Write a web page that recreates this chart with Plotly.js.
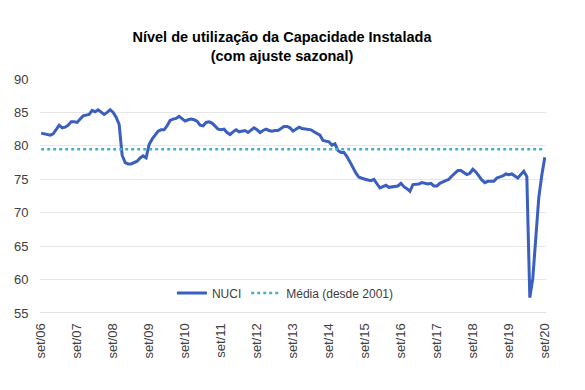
<!DOCTYPE html>
<html>
<head>
<meta charset="utf-8">
<script src="https://cdn.plot.ly/plotly-3.0.1.min.js"></script>
<style>html,body{margin:0;padding:0;background:#fff;}#chart{width:585px;height:390px;}</style>
</head>
<body>
<div id="chart"></div>
<script>
// Monthly NUCI (seasonally adjusted), set/06 .. set/20
const monthNames = ["jan","fev","mar","abr","mai","jun","jul","ago","set","out","nov","dez"];
const startYear = 2006, startMonth = 9, endYear = 2020, endMonth = 9;

const nuci = [
  81.9, 81.8, 81.6, 81.6, 81.8, 82.4, 83.1, 82.7, 82.8, 83.1, 83.6, 83.6, // set/06 - ago/07
  83.5, 84.0, 84.5, 84.6, 84.7, 85.3, 85.1, 85.4, 85.1, 84.7, 85.0, 85.4, // set/07 - ago/08
  85.0, 84.3, 83.2, 78.6, 77.5, 77.3, 77.3, 77.5, 77.7, 78.2, 78.5, 78.2, // set/08 - ago/09
  80.2, 81.0, 81.6, 82.2, 82.4, 82.4, 83.0, 83.8, 84.0, 84.1, 84.4, 84.0, // set/09 - ago/10
  83.7, 83.9, 84.0, 83.9, 83.7, 83.1, 83.0, 83.5, 83.6, 83.4, 83.0, 82.5, // set/10 - ago/11
  82.4, 82.5, 82.0, 81.7, 82.1, 82.4, 82.1, 82.2, 82.3, 82.0, 82.3, 82.7, // set/11 - ago/12
  82.4, 82.0, 82.3, 82.5, 82.3, 82.2, 82.3, 82.3, 82.6, 82.9, 82.9, 82.7, // set/12 - ago/13
  82.2, 82.5, 82.8, 82.6, 82.5, 82.5, 82.4, 82.1, 81.8, 81.6, 80.8, 80.7, // set/13 - ago/14
  80.6, 80.1, 80.3, 79.3, 79.0, 79.0, 78.4, 77.6, 76.7, 75.9, 75.3, 75.1, // set/14 - ago/15
  75.0, 74.9, 74.8, 75.0, 74.4, 73.7, 73.9, 74.1, 73.8, 73.9, 74.0, 74.0, // set/15 - ago/16
  74.4, 73.9, 73.6, 73.2, 74.2, 74.2, 74.3, 74.5, 74.4, 74.3, 74.4, 74.0, // set/16 - ago/17
  74.0, 74.4, 74.6, 74.8, 75.0, 75.5, 75.9, 76.3, 76.3, 76.0, 75.7, 75.9, // set/17 - ago/18
  76.5, 76.1, 75.4, 74.9, 74.5, 74.7, 74.7, 74.7, 75.2, 75.3, 75.5, 75.8, // set/18 - ago/19
  75.7, 75.8, 75.5, 75.2, 75.7, 76.2, 75.4, 57.3, 60.2, 66.8, 72.3, 75.6, // set/19 - ago/20
  78.3                                                                    // set/20
];
const mediaDesde2001 = 79.5;

const seriesNames = ["NUCI", "Média (desde 2001)"];
const titleText = "Nível de utilização da Capacidade Instalada<br>(com ajuste sazonal)";
const yTicks = [55, 60, 65, 70, 75, 80, 85, 90];

// month category labels
const months = [];
{
  let y = startYear, m = startMonth;
  while (y < endYear || (y === endYear && m <= endMonth)) {
    months.push(monthNames[m - 1] + "/" + String(y).slice(2));
    m++; if (m > 12) { m = 1; y++; }
  }
}
const xIdx = months.map((_, i) => i);
const tickIdx = xIdx.filter(i => months[i].startsWith("set/"));
const tickText = tickIdx.map(i => months[i]);

const traces = [
  {
    x: xIdx, y: nuci, type: "scatter", mode: "lines", name: seriesNames[0],
    line: {color: "#3B5FBE", width: 3}, hoverinfo: "skip"
  },
  {
    x: [xIdx[0], xIdx[xIdx.length - 1]], y: [mediaDesde2001, mediaDesde2001],
    type: "scatter", mode: "lines", name: seriesNames[1],
    line: {color: "#4AADC8", width: 2.5, dash: "dot"}, hoverinfo: "skip"
  }
];

const layout = {
  width: 585, height: 390,
  margin: {l: 40, r: 39, t: 79, b: 77, pad: 0},
  paper_bgcolor: "#fff", plot_bgcolor: "#fff",
  font: {family: "Liberation Sans, Arial, sans-serif", size: 13, color: "#404040"},
  title: {
    text: titleText, x: 0.482, xanchor: "center", y: 0.893, yanchor: "middle",
    font: {family: "Liberation Sans, Arial, sans-serif", size: 14.5, color: "#000", weight: "bold"}
  },
  showlegend: true,
  legend: {
    orientation: "h", x: 0.485, xanchor: "center", y: 0.085, yanchor: "middle",
    bgcolor: "rgba(0,0,0,0)", font: {size: 12, color: "#404040"},
    traceorder: "normal", itemwidth: 30
  },
  xaxis: {
    range: [-0.4, 168.4], tickmode: "array", tickvals: tickIdx, ticktext: tickText,
    tickangle: -90, showgrid: false, zeroline: false, showline: false,
    ticks: "outside", ticklen: 4, tickcolor: "rgba(0,0,0,0)",
    tickfont: {size: 13, color: "#404040"}, fixedrange: true
  },
  yaxis: {
    range: [55, 90], tickmode: "array", tickvals: yTicks,
    showgrid: true, gridcolor: "#E6E6E6", gridwidth: 1, zeroline: false,
    showline: false, ticks: "outside", ticklen: 8, tickcolor: "rgba(0,0,0,0)",
    tickfont: {size: 13, color: "#404040"},
    fixedrange: true
  },
  shapes: [{
    type: "line", xref: "paper", yref: "y", x0: 0, x1: 1, y0: 55, y1: 55,
    line: {color: "#D9D9D9", width: 1.5}, layer: "below"
  }]
};

Plotly.newPlot("chart", traces, layout, {staticPlot: true, displayModeBar: false});
</script>
</body>
</html>
